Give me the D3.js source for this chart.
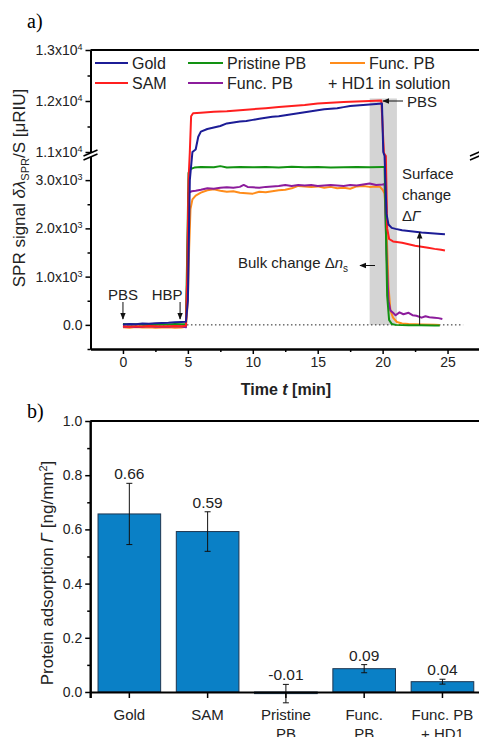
<!DOCTYPE html>
<html>
<head>
<meta charset="utf-8">
<script src="https://cdn.jsdelivr.net/npm/d3@7/dist/d3.min.js"></script>
<style>
  body { margin: 0; background: #fff; }
  svg { display: block; font-family: Arial, "Liberation Sans", sans-serif; }
</style>
</head>
<body>
<div id="chart"></div>
<script>
// ---- panel a) SPR sensorgrams: [time in min, signal in uRIU] ----
var goldData = [[0,10],[0.5,20],[1,15],[1.5,30],[2,25],[2.5,35],[3,40],[3.5,45],[4,55],[4.5,60],[4.85,65],
  [5.0,500],[5.15,3000],[5.35,11000],[5.6,11050],[5.8,11300],[6,11400],[6.5,11450],[7,11480],[7.5,11510],
  [8,11560],[8.5,11580],[9,11600],[9.5,11610],[10,11630],[10.5,11650],[11,11670],[11.5,11690],[12,11700],
  [12.5,11720],[13,11740],[13.5,11760],[14,11780],[14.5,11800],[15,11820],[15.5,11840],[16,11850],[16.5,11860],
  [17,11880],[17.5,11900],[18,11910],[18.5,11920],[19,11930],[19.5,11940],[19.95,11950],[20.05,11000],
  [20.15,3500],[20.3,2300],[20.45,2080],[20.7,2010],[21,1990],[21.5,1960],[22,1945],[22.5,1930],[23,1915],
  [23.5,1905],[24,1895],[24.5,1885],[24.8,1880]];
var samData = [[0,-30],[0.5,-40],[1,-30],[1.5,-35],[2,-25],[2.5,-30],[3,-35],[3.5,-30],[4,-25],[4.5,-30],[4.85,-20],
  [4.95,1000],[5.05,3000],[5.15,11000],[5.25,11700],[5.4,11760],[6,11770],[7,11790],[8,11800],[9,11820],
  [10,11840],[11,11860],[12,11880],[13,11900],[14,11920],[15,11950],[16,11965],[17,11980],[18,11990],
  [19,12000],[19.9,12010],[20.0,11500],[20.1,9000],[20.25,3500],[20.35,2000],[20.5,1780],[20.8,1730],
  [21.5,1700],[22,1670],[22.5,1640],[23,1620],[23.5,1600],[24,1575],[24.5,1555],[24.8,1540]];
var pristineData = [[0,20],[0.5,10],[1,15],[1.5,0],[2,10],[2.5,5],[3,15],[3.5,10],[4,20],[4.5,15],[4.85,20],
  [4.95,1500],[5.05,3150],[5.2,3230],[5.5,3260],[6,3270],[7,3265],[7.5,3290],[8,3260],[9,3270],[10,3265],
  [11,3270],[12,3260],[13,3275],[14,3265],[15,3270],[16,3260],[17,3265],[18,3270],[19,3265],[20,3270],
  [20.15,3270],[20.25,2000],[20.35,600],[20.5,100],[20.7,20],[21,0],[22,-10],[23,-10],[24,-15],[24.4,-15]];
var funcData = [[0,-40],[0.5,-35],[1,-45],[1.5,-40],[2,-30],[2.5,-40],[3,-35],[3.5,-40],[4,-30],[4.5,-35],[4.85,-50],
  [4.95,1000],[5.05,2740],[5.3,2770],[5.6,2780],[6,2800],[6.5,2830],[7,2820],[7.5,2840],[8,2850],[8.5,2840],
  [9,2860],[9.3,2900],[9.6,2860],[10,2850],[10.5,2840],[11,2860],[11.5,2870],[12,2880],[12.5,2900],[13,2880],
  [13.5,2900],[14,2890],[14.5,2900],[15,2880],[15.5,2890],[16,2900],[16.5,2890],[17,2880],[17.5,2900],
  [18,2890],[18.5,2910],[19,2930],[19.5,2900],[20,2910],[20.15,2920],[20.3,1500],[20.45,500],[20.6,300],
  [20.8,250],[21,200],[21.3,260],[21.6,220],[22,250],[22.3,200],[22.6,190],[23,150],[23.3,180],[23.6,160],
  [24,150],[24.3,140],[24.6,120]];
var funcHd1Data = [[0,-50],[0.5,-60],[1,-45],[1.5,-55],[2,-50],[2.5,-60],[3,-55],[3.5,-50],[4,-60],[4.5,-55],[4.85,-40],
  [5.0,500],[5.1,1600],[5.2,2400],[5.35,2600],[5.6,2680],[6,2740],[6.5,2790],[7,2810],[7.5,2780],[8,2760],
  [8.5,2770],[9,2740],[9.5,2730],[10,2720],[10.5,2760],[11,2750],[11.5,2770],[12,2790],[12.5,2800],[13,2830],
  [13.5,2880],[14,2870],[14.5,2860],[15,2870],[15.5,2840],[16,2860],[16.5,2830],[17,2840],[17.5,2820],
  [18,2870],[18.5,2880],[19,2860],[19.5,2870],[19.8,2860],[20.0,2800],[20.15,2720],[20.3,2000],[20.45,800],
  [20.6,300],[20.8,150],[21.1,60],[21.5,30],[22,20],[23,10],[24,5],[24.4,0]];

var seriesNames = ["Gold", "SAM", "Pristine PB", "Func. PB", "Func. PB"];
var seriesColors = ["#1c1c96", "#ff1f1f", "#129212", "#8c1c9c", "#ff8c1a"];

var xTicks = [0, 5, 10, 15, 20, 25];
var xMinorTicks = [2.5, 7.5, 12.5, 17.5, 22.5];
var yTicks = [0, 1000, 2000, 3000, 11000, 12000, 13000];
var yTickText = ["0.0", "1.0x10", "2.0x10", "3.0x10", "1.1x10", "1.2x10", "1.3x10"];
var yTickExp = ["", "3", "3", "3", "4", "4", "4"];
var yMinorTicks = [-500, 500, 1500, 2500, 11500, 12500];

// ---- panel b) protein adsorption ----
var categories = ["Gold", "SAM", "Pristine PB", "Func. PB", "Func. PB + HD1"];
var catLines = [["Gold"], ["SAM"], ["Pristine", "PB"], ["Func.", "PB"], ["Func. PB", "+ HD1"]];
var adsorption = [0.657, 0.592, -0.006, 0.086, 0.038];
var adsorptionErr = [0.113, 0.073, 0.034, 0.015, 0.009];
var barLabels = ["0.66", "0.59", "-0.01", "0.09", "0.04"];
var bTicks = [0, 0.2, 0.4, 0.6, 0.8, 1.0];
var bMinorTicks = [0.1, 0.3, 0.5, 0.7, 0.9];

var width = 479, height = 737;
var font = "Arial, 'Liberation Sans', sans-serif";

var svg = d3.select("#chart").append("svg")
    .attr("width", width)
    .attr("height", height);

var defs = svg.append("defs");
defs.append("marker")
    .attr("id", "arrow")
    .attr("viewBox", "0 0 10 10")
    .attr("refX", 9).attr("refY", 5)
    .attr("markerWidth", 7).attr("markerHeight", 7)
    .attr("markerUnits", "userSpaceOnUse")
    .attr("orient", "auto")
    .append("path")
    .attr("d", "M0,1 L10,5 L0,9 Z")
    .attr("fill", "#111");

// ================= panel a =================
var x = d3.scaleLinear().domain([-2.5, 27.5]).range([90.5, 480]);
// broken axis: lower segment, compressed gap, upper segment
var y = d3.scaleLinear().domain([-500, 3500, 11000, 13000]).range([349, 156, 152, 50]);

svg.append("text")
    .attr("x", 27).attr("y", 28)
    .attr("font-family", "'Liberation Serif', 'Times New Roman', serif")
    .attr("font-size", 20)
    .text("a)");

// shaded PBS injection window
svg.append("rect")
    .attr("x", x(19.0))
    .attr("y", y(12050))
    .attr("width", x(21.1) - x(19.0))
    .attr("height", y(0) - y(12050))
    .attr("fill", "#d4d4d4");

// zero baseline
svg.append("line")
    .attr("x1", x(0)).attr("x2", x(26.2))
    .attr("y1", y(0)).attr("y2", y(0))
    .attr("stroke", "#222")
    .attr("stroke-width", 1)
    .attr("stroke-dasharray", "1.5,2.5");

var line = d3.line()
    .x(function(d) { return x(d[0]); })
    .y(function(d) { return y(d[1]); });

var drawOrder = [[funcHd1Data, 4], [funcData, 3], [pristineData, 2], [samData, 1], [goldData, 0]];
drawOrder.forEach(function(s) {
    svg.append("path")
        .datum(s[0])
        .attr("d", line)
        .attr("fill", "none")
        .attr("stroke", seriesColors[s[1]])
        .attr("stroke-width", 2)
        .attr("stroke-linejoin", "round");
});

// axes
var yAxis = svg.append("g")
    .attr("transform", "translate(" + x(-2.5) + ",0)")
    .call(d3.axisLeft(y).tickValues(yTicks).tickSize(5).tickSizeOuter(0).tickPadding(3));
yAxis.selectAll(".tick text").each(function(d, i) {
    var t = d3.select(this).text(yTickText[i]);
    if (yTickExp[i] != "") {
        t.append("tspan").attr("dy", "-0.55em").attr("font-size", 9).text(yTickExp[i]);
    }
});
svg.append("g")
    .attr("transform", "translate(" + x(-2.5) + ",0)")
    .call(d3.axisLeft(y).tickValues(yMinorTicks).tickSize(3).tickSizeOuter(0).tickFormat(""));

var xAxis = svg.append("g")
    .attr("transform", "translate(0," + y(-500) + ")")
    .call(d3.axisBottom(x).tickValues(xTicks).tickSize(5).tickSizeOuter(0));
svg.append("g")
    .attr("transform", "translate(0," + y(-500) + ")")
    .call(d3.axisBottom(x).tickValues(xMinorTicks).tickSize(3).tickSizeOuter(0).tickFormat(""));

// top and right frame
svg.append("line")
    .attr("x1", x(-2.5)).attr("x2", x(27.5))
    .attr("y1", y(13000)).attr("y2", y(13000))
    .attr("stroke", "#000").attr("stroke-width", 2);
svg.append("line")
    .attr("x1", x(27.5)).attr("x2", x(27.5))
    .attr("y1", y(13000)).attr("y2", y(-500))
    .attr("stroke", "#000").attr("stroke-width", 2);

// axis break marks
[x(-2.5), x(27.5) - 3].forEach(function(bx) {
    svg.append("path")
        .attr("d", "M" + (bx - 7) + "," + 156 + " L" + (bx + 7) + "," + 150 +
                   " L" + (bx + 7) + "," + 154 + " L" + (bx - 7) + "," + 160 + " Z")
        .attr("fill", "#fff");
    svg.append("line")
        .attr("x1", bx - 7).attr("y1", 156).attr("x2", bx + 7).attr("y2", 150)
        .attr("stroke", "#000").attr("stroke-width", 1.5);
    svg.append("line")
        .attr("x1", bx - 7).attr("y1", 160).attr("x2", bx + 7).attr("y2", 154)
        .attr("stroke", "#000").attr("stroke-width", 1.5);
});

// axis titles
var yTitle = svg.append("text")
    .attr("transform", "translate(25," + 188 + ") rotate(-90)")
    .attr("text-anchor", "middle")
    .attr("font-size", 17)
    .attr("fill", "#222");
yTitle.append("tspan").text("SPR signal ");
yTitle.append("tspan").attr("font-style", "italic").text("δλ");
yTitle.append("tspan").attr("font-size", 11).attr("dy", 4).text("SPR");
yTitle.append("tspan").attr("dy", -4).text("/S [μRIU]");

var xTitle = svg.append("text")
    .attr("x", 286).attr("y", 395)
    .attr("text-anchor", "middle")
    .attr("font-size", 16)
    .attr("font-weight", "bold")
    .attr("fill", "#222");
xTitle.append("tspan").text("Time ");
xTitle.append("tspan").attr("font-style", "italic").text("t");
xTitle.append("tspan").text(" [min]");

// legend
var legendPos = [[95, 63], [95, 83], [188, 63], [188, 83], [330, 63]];
var legendLen = [33, 33, 35, 35, 35];
legendPos.forEach(function(p, i) {
    svg.append("line")
        .attr("x1", p[0]).attr("x2", p[0] + legendLen[i])
        .attr("y1", p[1]).attr("y2", p[1])
        .attr("stroke", seriesColors[i]).attr("stroke-width", 2);
    svg.append("text")
        .attr("x", p[0] + legendLen[i] + 4).attr("y", p[1] + 5.5)
        .attr("font-size", 16).attr("fill", "#222")
        .text(seriesNames[i]);
});
svg.append("text")
    .attr("x", 328).attr("y", 88.5)
    .attr("font-size", 16).attr("fill", "#222")
    .text("+ HD1 in solution");

// annotations
function arrow(x1, y1, x2, y2) {
    svg.append("line")
        .attr("x1", x1).attr("y1", y1).attr("x2", x2).attr("y2", y2)
        .attr("stroke", "#111").attr("stroke-width", 1)
        .attr("marker-end", "url(#arrow)");
}
svg.append("text").attr("x", x(0)).attr("y", 300).attr("text-anchor", "middle")
    .attr("font-size", 15).attr("fill", "#222").text("PBS");
arrow(x(0), 302, x(0), 319);
svg.append("text").attr("x", x(3.4)).attr("y", 300).attr("text-anchor", "middle")
    .attr("font-size", 15).attr("fill", "#222").text("HBP");
arrow(x(4.4), 302, x(4.4), 319);

arrow(403, y(12000), 383, y(12000));
svg.append("text").attr("x", 407).attr("y", y(12000) + 6)
    .attr("font-size", 15).attr("fill", "#222").text("PBS");

var surf = svg.append("text").attr("font-size", 15).attr("fill", "#222");
surf.append("tspan").attr("x", 402).attr("y", 179).text("Surface");
surf.append("tspan").attr("x", 402).attr("y", 200).text("change");
surf.append("tspan").attr("x", 402).attr("y", 221).text("Δ");
surf.append("tspan").attr("font-style", "italic").text("Γ");
arrow(x(22.85), y(0), x(22.85), y(1920));

var bulk = svg.append("text").attr("x", 238).attr("y", 268)
    .attr("font-size", 15).attr("fill", "#222");
bulk.append("tspan").text("Bulk change Δ");
bulk.append("tspan").attr("font-style", "italic").text("n");
bulk.append("tspan").attr("font-size", 10).attr("dy", 4).text("s");
arrow(375, 265.5, 360, 265.5);

// ================= panel b =================
var xb = d3.scaleBand().domain(categories).range([90.2, 481.6]).paddingInner(0.2).paddingOuter(0.1);
var yb = d3.scaleLinear().domain([-0.02, 1.0]).range([697.4, 421]);

svg.append("text")
    .attr("x", 27).attr("y", 418)
    .attr("font-family", "'Liberation Serif', 'Times New Roman', serif")
    .attr("font-size", 20)
    .text("b)");

svg.selectAll("rect.bar")
    .data(adsorption)
    .enter()
    .append("rect")
    .attr("class", "bar")
    .attr("x", function(d, i) { return xb(categories[i]); })
    .attr("y", function(d) { return yb(Math.max(0, d)); })
    .attr("width", xb.bandwidth())
    .attr("height", function(d) { return Math.abs(yb(d) - yb(0)); })
    .attr("fill", "#0a80c6")
    .attr("stroke", "#1d3550")
    .attr("stroke-width", 1);

// error bars
adsorption.forEach(function(d, i) {
    var cx = xb(categories[i]) + xb.bandwidth() / 2;
    var top = yb(d + adsorptionErr[i]), bot = yb(d - adsorptionErr[i]);
    var g = svg.append("g").attr("stroke", "#111").attr("stroke-width", 1);
    g.append("line").attr("x1", cx).attr("x2", cx).attr("y1", top).attr("y2", bot);
    g.append("line").attr("x1", cx - 3).attr("x2", cx + 3).attr("y1", top).attr("y2", top);
    g.append("line").attr("x1", cx - 3).attr("x2", cx + 3).attr("y1", bot).attr("y2", bot);
    svg.append("text")
        .attr("x", cx).attr("y", top - 4)
        .attr("text-anchor", "middle")
        .attr("font-size", 15.5).attr("fill", "#222")
        .text(barLabels[i]);
});

svg.append("g")
    .attr("transform", "translate(90.2,0)")
    .call(d3.axisLeft(yb).tickValues(bTicks).tickSize(5).tickSizeOuter(0).tickFormat(d3.format(".1f")));
svg.append("g")
    .attr("transform", "translate(90.2,0)")
    .call(d3.axisLeft(yb).tickValues(bMinorTicks).tickSize(3).tickSizeOuter(0).tickFormat(""));
svg.append("g")
    .attr("transform", "translate(0," + yb(0) + ")")
    .call(d3.axisBottom(xb).tickSize(6).tickSizeOuter(0).tickFormat(""));

svg.append("line")
    .attr("x1", 90.2).attr("x2", 481.6)
    .attr("y1", yb(1.0)).attr("y2", yb(1.0))
    .attr("stroke", "#000").attr("stroke-width", 2);

// shared axis styling (d3 axis sets its own font, so override after call)
svg.selectAll(".domain").attr("stroke-width", 2);
svg.selectAll(".tick line").attr("stroke-width", 1.5);
svg.selectAll(".tick text").attr("fill", "#222")
    .attr("font-size", 14).attr("font-family", font);
svg.selectAll(".tick text tspan").attr("font-size", 9);

// category labels (two lines)
catLines.forEach(function(lines, i) {
    var cx = xb(categories[i]) + xb.bandwidth() / 2;
    var t = svg.append("text")
        .attr("text-anchor", "middle")
        .attr("font-size", 15).attr("fill", "#222");
    lines.forEach(function(s, j) {
        t.append("tspan").attr("x", cx).attr("y", 720 + j * 19).text(s);
    });
});

var bTitle = svg.append("text")
    .attr("transform", "translate(53,573) rotate(-90)")
    .attr("text-anchor", "middle")
    .attr("font-size", 17)
    .attr("fill", "#222");
bTitle.append("tspan").text("Protein adsorption ");
bTitle.append("tspan").attr("font-style", "italic").text("Γ");
bTitle.append("tspan").text(" [ng/mm");
bTitle.append("tspan").attr("font-size", 11).attr("dy", -6).text("2");
bTitle.append("tspan").attr("dy", 6).text("]");
</script>
</body>
</html>
